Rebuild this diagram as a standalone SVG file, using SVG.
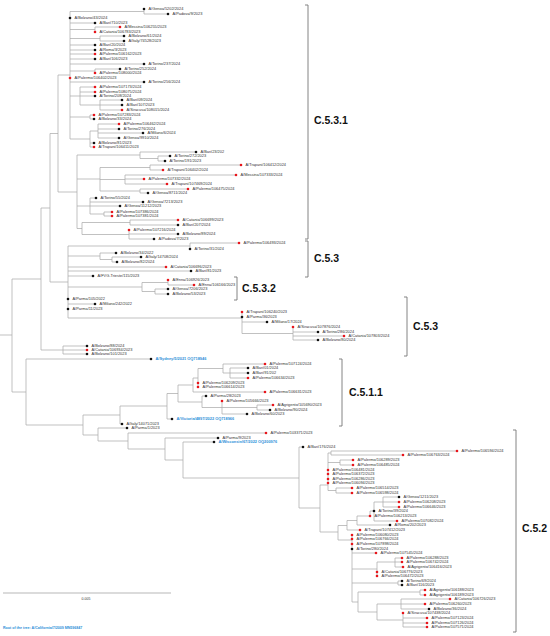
<svg xmlns="http://www.w3.org/2000/svg" width="550" height="636" viewBox="0 0 550 636">
<style>
.c path{fill:none;stroke:#a6a6a6;stroke-width:0.7}
.b{fill:#111}
.r{fill:#e8151b}
text{font-family:"Liberation Sans",Arial,sans-serif;font-size:3.9px;fill:#333}
.bl{fill:#2b8fd8;font-weight:bold}
.cl{font-size:10.5px;font-weight:bold;fill:#111}
.br{fill:none;stroke:#777;stroke-width:0.9}
.sb{stroke:#cfcfcf;stroke-width:1.5}
</style>
<rect width="550" height="636" fill="#fff"/>
<g id="connectors" class="c">
<path d="M0 335H12M12 279V392M12 279H41M41 208V350M41 208H50M50 133.5V282M50 133.5H58M58 75V192M58 75H70M70 11.5V139M58 192H77M77 155V228.5M50 282H68M68 246V318M41 350H63M63 346V354M63 346H87M63 350H87M63 354H87"/>
<path d="M70 11.5H144M144 9V14M144 14H168M70 23H95M70 29.5H95M95 27V32M95 27H120M70 38.5H100M100 36V41M100 36H124M100 41H124M70 45H95M70 50H95M70 54H95M70 59H95M70 64H144M70 71H95M95 69V73M95 69H120M70 82H144M70 96H80M80 87V105M80 87H95M80 92H95M80 96H95M80 105H100M100 100V110M100 100H122M100 105H122M100 110H122M70 117H90M90 115V119M90 115H94M90 119H94M70 139H90M90 131V147M90 131H98M98 124V138M98 124H119M98 129H119M98 133H143M98 138H119M90 143H94M90 147H94"/>
<path d="M77 155H140M140 152V158.5M140 152H196M140 158.5H158M158 156V161M158 156H170M158 161H165M77 179H100M100 167.5V191M100 167.5H150M150 165V170M150 165H241M150 170H163M100 179.5H125M125 175V184M125 175H236M125 179H144M125 184H167M100 191H140M140 189V193M140 189H188M140 193H148M77 206H90M90 198V214M90 198H96M90 202H143M90 206H120M90 214H104M104 212V216M104 212H112M104 216H112M77 228.5H82M82 222.5V234.5M82 222.5H130M130 220V225M130 220H178M130 225H178M82 234.5H129M129 230V239M129 234H178M129 239H154"/>
<path d="M68 246H190M190 243V249M190 243H239M68 256H100M100 253V259.5M100 253H116M100 259.5H112M112 257V262M112 257H141M112 262H117M68 267H166M68 271H191M68 276H93M68 287H142M142 282.5V291.5M142 282.5H168M168 280V285M168 285H194M142 291.5H155M155 289V294M155 289H168M155 294H168M68 304H95M68 318H242M242 312V333.5M242 322H267M242 333.5H293M293 327V340M293 332H318M293 336H344M293 340H318"/>
<path d="M12 392H26M26 359V425M26 359H151M26 425H83M83 415V435M83 415H120M120 406V424M120 424H122M120 406H167M167 393.5V419M167 419H172M167 393.5H178M178 385V402M178 385H193M193 378V392M193 392H265M193 378H198M198 368.5V387M198 368.5H223M223 364V373M223 364H265M223 373H230M230 368V378M230 368H248M230 373H248M230 378H248M178 402H202M202 396V407.5M202 396H206M202 407.5H222M222 401V414M222 407.5H257M257 405V410M257 405H273M257 410H270M222 414H247"/>
<path d="M83 435H98M98 428V441M98 428H127M98 441H128M128 433V449M128 433H266M128 449H165M165 438V460M165 438H218M165 460H183M183 442V478M183 442H214M183 478H299"/>
<path d="M299 447V508M299 447H303M299 508H320M320 485V532M320 485H328M328 453V490.5M328 453H331M331 451V455M331 451H457M331 455H403M328 462.5H340M340 460V465M340 460H353M340 465H353M328 490.5H336M336 488V493M336 488H352M336 493H352M320 532H338M338 525.5V540M338 525.5H347M347 520.5V530M347 530H360M347 520.5H357M357 516V525M357 525H390M357 516H370M370 511V516M370 511H374M374 502V521M374 502H383M383 497V507M383 497H399M383 502H399M383 507H399M374 521H397"/>
<path d="M338 540H352M352 535V602M352 553H376M352 569H377M377 562V576M377 562H395M395 558V567M395 558H402M395 562H402M395 567H403M352 583H398M398 581V585M398 581H402M398 585H402M352 602H358M358 592V612M358 592H420M420 590V595M420 590H425M420 595H425M358 612H377M377 604V620M377 604H401M401 599V609M401 599H450M401 604H425M401 609H429M377 620H403M403 613V627M403 618H427M403 623H427M403 627H427"/>
</g>
<g id="leaves">
<g id="n1"><circle class="b" cx="144" cy="9" r="1.3"/><text x="148.5" y="10.4">A/Genoa/5202/2024</text></g>
<g id="n2"><circle class="b" cx="168" cy="14" r="1.3"/><text x="172.5" y="15.4">A/Padova/9/2023</text></g>
<g id="n3"><circle class="b" cx="70" cy="18" r="1.3"/><text x="74.5" y="19.4">A/Bolzano/43/2024</text></g>
<g id="n4"><circle class="b" cx="95" cy="23" r="1.3"/><text x="99.5" y="24.4">A/Bari/710/2023</text></g>
<g id="n5"><circle class="r" cx="120" cy="27" r="1.3"/><text x="124.5" y="28.4">A/Messina/106255/2023</text></g>
<g id="n6"><circle class="r" cx="95" cy="32" r="1.3"/><text x="99.5" y="33.4">A/Catania/106783/2023</text></g>
<g id="n7"><circle class="b" cx="124" cy="36" r="1.3"/><text x="128.5" y="37.4">A/Bolzano/61/2024</text></g>
<g id="n8"><circle class="b" cx="124" cy="41" r="1.3"/><text x="128.5" y="42.4">A/Italy/74528/2023</text></g>
<g id="n9"><circle class="b" cx="95" cy="45" r="1.3"/><text x="99.5" y="46.4">A/Bari/20/2024</text></g>
<g id="n10"><circle class="b" cx="95" cy="50" r="1.3"/><text x="99.5" y="51.4">A/Roma/3/2023</text></g>
<g id="n11"><circle class="r" cx="95" cy="54" r="1.3"/><text x="99.5" y="55.4">A/Palermo/106162/2023</text></g>
<g id="n12"><circle class="b" cx="95" cy="59" r="1.3"/><text x="99.5" y="60.4">A/Bari/106/2023</text></g>
<g id="n13"><circle class="b" cx="144" cy="64" r="1.3"/><text x="148.5" y="65.4">A/Torino/237/2024</text></g>
<g id="n14"><circle class="b" cx="120" cy="69" r="1.3"/><text x="124.5" y="70.4">A/Torino/252/2024</text></g>
<g id="n15"><circle class="r" cx="95" cy="73" r="1.3"/><text x="99.5" y="74.4">A/Palermo/108000/2024</text></g>
<g id="n16"><circle class="r" cx="70" cy="78" r="1.3"/><text x="74.5" y="79.4">A/Palermo/106402/2023</text></g>
<g id="n17"><circle class="b" cx="144" cy="82" r="1.3"/><text x="148.5" y="83.4">A/Torino/256/2024</text></g>
<g id="n18"><circle class="r" cx="95" cy="87" r="1.3"/><text x="99.5" y="88.4">A/Palermo/107173/2024</text></g>
<g id="n19"><circle class="r" cx="95" cy="92" r="1.3"/><text x="99.5" y="93.4">A/Palermo/108075/2024</text></g>
<g id="n20"><circle class="b" cx="95" cy="96" r="1.3"/><text x="99.5" y="97.4">A/Torino/208/2024</text></g>
<g id="n21"><circle class="b" cx="122" cy="100" r="1.3"/><text x="126.5" y="101.4">A/Bari/09/2024</text></g>
<g id="n22"><circle class="b" cx="122" cy="105" r="1.3"/><text x="126.5" y="106.4">A/Bari/107/2023</text></g>
<g id="n23"><circle class="r" cx="122" cy="110" r="1.3"/><text x="126.5" y="111.4">A/Siracusa/108015/2024</text></g>
<g id="n24"><circle class="r" cx="94" cy="115" r="1.3"/><text x="98.5" y="116.4">A/Palermo/107283/2024</text></g>
<g id="n25"><circle class="b" cx="94" cy="119" r="1.3"/><text x="98.5" y="120.4">A/Bolzano/33/2024</text></g>
<g id="n26"><circle class="r" cx="119" cy="124" r="1.3"/><text x="123.5" y="125.4">A/Palermo/106462/2024</text></g>
<g id="n27"><circle class="b" cx="119" cy="129" r="1.3"/><text x="123.5" y="130.4">A/Torino/276/2024</text></g>
<g id="n28"><circle class="b" cx="143" cy="133" r="1.3"/><text x="147.5" y="134.4">A/Milano/6/2024</text></g>
<g id="n29"><circle class="b" cx="119" cy="138" r="1.3"/><text x="123.5" y="139.4">A/Genoa/9910/2024</text></g>
<g id="n30"><circle class="b" cx="94" cy="143" r="1.3"/><text x="98.5" y="144.4">A/Bolzano/81/2023</text></g>
<g id="n31"><circle class="r" cx="94" cy="147" r="1.3"/><text x="98.5" y="148.4">A/Trapani/106411/2023</text></g>
<g id="n32"><circle class="b" cx="196" cy="152" r="1.3"/><text x="200.5" y="153.4">A/Bari/23/202</text></g>
<g id="n33"><circle class="b" cx="170" cy="156" r="1.3"/><text x="174.5" y="157.4">A/Torino/272/2023</text></g>
<g id="n34"><circle class="b" cx="165" cy="161" r="1.3"/><text x="169.5" y="162.4">A/Torino/191/2023</text></g>
<g id="n35"><circle class="r" cx="241" cy="165" r="1.3"/><text x="245.5" y="166.4">A/Trapani/106412/2024</text></g>
<g id="n36"><circle class="r" cx="163" cy="170" r="1.3"/><text x="167.5" y="171.4">A/Trapani/106402/2024</text></g>
<g id="n37"><circle class="r" cx="236" cy="175" r="1.3"/><text x="240.5" y="176.4">A/Messina/107333/2024</text></g>
<g id="n38"><circle class="r" cx="144" cy="179" r="1.3"/><text x="148.5" y="180.4">A/Palermo/107332/2024</text></g>
<g id="n39"><circle class="r" cx="167" cy="184" r="1.3"/><text x="171.5" y="185.4">A/Trapani/107469/2024</text></g>
<g id="n40"><circle class="r" cx="188" cy="189" r="1.3"/><text x="192.5" y="190.4">A/Palermo/106475/2024</text></g>
<g id="n41"><circle class="b" cx="148" cy="193" r="1.3"/><text x="152.5" y="194.4">A/Genoa/8711/2024</text></g>
<g id="n42"><circle class="b" cx="96" cy="198" r="1.3"/><text x="100.5" y="199.4">A/Torino/55/2024</text></g>
<g id="n43"><circle class="b" cx="143" cy="202" r="1.3"/><text x="147.5" y="203.4">A/Genoa/7213/2023</text></g>
<g id="n44"><circle class="b" cx="120" cy="206" r="1.3"/><text x="124.5" y="207.4">A/Genoa/11212/2023</text></g>
<g id="n45"><circle class="r" cx="112" cy="212" r="1.3"/><text x="116.5" y="213.4">A/Palermo/107386/2024</text></g>
<g id="n46"><circle class="r" cx="112" cy="216" r="1.3"/><text x="116.5" y="217.4">A/Palermo/107381/2024</text></g>
<g id="n47"><circle class="r" cx="178" cy="220" r="1.3"/><text x="182.5" y="221.4">A/Catania/106699/2023</text></g>
<g id="n48"><circle class="b" cx="178" cy="225" r="1.3"/><text x="182.5" y="226.4">A/Bari/207/2024</text></g>
<g id="n49"><circle class="r" cx="129" cy="230" r="1.3"/><text x="133.5" y="231.4">A/Palermo/107216/2024</text></g>
<g id="n50"><circle class="b" cx="178" cy="234" r="1.3"/><text x="182.5" y="235.4">A/Bolzano/89/2024</text></g>
<g id="n51"><circle class="b" cx="154" cy="239" r="1.3"/><text x="158.5" y="240.4">A/Padova/7/2023</text></g>
<g id="n52"><circle class="r" cx="239" cy="243" r="1.3"/><text x="243.5" y="244.4">A/Palermo/106493/2024</text></g>
<g id="n53"><circle class="b" cx="190" cy="249" r="1.3"/><text x="194.5" y="250.4">A/Torino/31/2024</text></g>
<g id="n54"><circle class="b" cx="116" cy="253" r="1.3"/><text x="120.5" y="254.4">A/Bolzano/34/2022</text></g>
<g id="n55"><circle class="b" cx="141" cy="257" r="1.3"/><text x="145.5" y="258.4">A/Italy/14708/2024</text></g>
<g id="n56"><circle class="b" cx="117" cy="262" r="1.3"/><text x="121.5" y="263.4">A/Bolzano/82/2024</text></g>
<g id="n57"><circle class="r" cx="166" cy="267" r="1.3"/><text x="170.5" y="268.4">A/Catania/106696/2023</text></g>
<g id="n58"><circle class="b" cx="191" cy="271" r="1.3"/><text x="195.5" y="272.4">A/Bari/81/2023</text></g>
<g id="n59"><circle class="b" cx="93" cy="276" r="1.3"/><text x="97.5" y="277.4">A/FVG-Trieste/115/2023</text></g>
<g id="n60"><circle class="r" cx="168" cy="280" r="1.3"/><text x="172.5" y="281.4">A/Enna/106926/2023</text></g>
<g id="n61"><circle class="r" cx="194" cy="285" r="1.3"/><text x="198.5" y="286.4">A/Enna/106166/2023</text></g>
<g id="n62"><circle class="b" cx="168" cy="289" r="1.3"/><text x="172.5" y="290.4">A/Genoa/7206/2023</text></g>
<g id="n63"><circle class="b" cx="168" cy="294" r="1.3"/><text x="172.5" y="295.4">A/Bolzano/53/2023</text></g>
<g id="n64"><circle class="b" cx="68" cy="299" r="1.3"/><text x="72.5" y="300.4">A/Parma/105/2022</text></g>
<g id="n65"><circle class="b" cx="95" cy="304" r="1.3"/><text x="99.5" y="305.4">A/Milano/242/2022</text></g>
<g id="n66"><circle class="b" cx="68" cy="309" r="1.3"/><text x="72.5" y="310.4">A/Parma/11/2023</text></g>
<g id="n67"><circle class="r" cx="242" cy="312" r="1.3"/><text x="246.5" y="313.4">A/Trapani/106240/2023</text></g>
<g id="n68"><circle class="b" cx="242" cy="317" r="1.3"/><text x="246.5" y="318.4">A/Parma/36/2023</text></g>
<g id="n69"><circle class="b" cx="267" cy="322" r="1.3"/><text x="271.5" y="323.4">A/Milano/17/2024</text></g>
<g id="n70"><circle class="r" cx="293" cy="327" r="1.3"/><text x="297.5" y="328.4">A/Siracusa/107876/2024</text></g>
<g id="n71"><circle class="b" cx="318" cy="332" r="1.3"/><text x="322.5" y="333.4">A/Torino/286/2024</text></g>
<g id="n72"><circle class="r" cx="344" cy="336" r="1.3"/><text x="348.5" y="337.4">A/Catania/107803/2024</text></g>
<g id="n73"><circle class="b" cx="318" cy="340" r="1.3"/><text x="322.5" y="341.4">A/Bolzano/80/2024</text></g>
<g id="n74"><circle class="b" cx="87" cy="346" r="1.3"/><text x="91.5" y="347.4">A/Bolzano/88/2024</text></g>
<g id="n75"><circle class="r" cx="87" cy="350" r="1.3"/><text x="91.5" y="351.4">A/Catania/106934/2023</text></g>
<g id="n76"><circle class="b" cx="87" cy="354" r="1.3"/><text x="91.5" y="355.4">A/Bolzano/101/2023</text></g>
<g id="n77"><circle class="b" cx="151" cy="359" r="1.3"/><text class="bl" x="155.5" y="360.4">A/Sydney/5/2021 OQ718946</text></g>
<g id="n78"><circle class="r" cx="265" cy="364" r="1.3"/><text x="269.5" y="365.4">A/Palermo/107124/2024</text></g>
<g id="n79"><circle class="b" cx="248" cy="368" r="1.3"/><text x="252.5" y="369.4">A/Bari/01/2024</text></g>
<g id="n80"><circle class="b" cx="248" cy="373" r="1.3"/><text x="252.5" y="374.4">A/Bari/91/202</text></g>
<g id="n81"><circle class="r" cx="248" cy="378" r="1.3"/><text x="252.5" y="379.4">A/Palermo/106634/2023</text></g>
<g id="n82"><circle class="r" cx="198" cy="383" r="1.3"/><text x="202.5" y="384.4">A/Palermo/106209/2023</text></g>
<g id="n83"><circle class="r" cx="198" cy="387" r="1.3"/><text x="202.5" y="388.4">A/Palermo/106614/2023</text></g>
<g id="n84"><circle class="r" cx="265" cy="392" r="1.3"/><text x="269.5" y="393.4">A/Palermo/106631/2023</text></g>
<g id="n85"><circle class="b" cx="206" cy="396" r="1.3"/><text x="210.5" y="397.4">A/Parma/28/2023</text></g>
<g id="n86"><circle class="r" cx="222" cy="401" r="1.3"/><text x="226.5" y="402.4">A/Palermo/105666/2023</text></g>
<g id="n87"><circle class="r" cx="273" cy="405" r="1.3"/><text x="277.5" y="406.4">A/Agrigento/105690/2023</text></g>
<g id="n88"><circle class="b" cx="270" cy="410" r="1.3"/><text x="274.5" y="411.4">A/Bolzano/90/2024</text></g>
<g id="n89"><circle class="b" cx="247" cy="414" r="1.3"/><text x="251.5" y="415.4">A/Bolzano/60/2023</text></g>
<g id="n90"><circle class="b" cx="172" cy="419" r="1.3"/><text class="bl" x="176.5" y="420.4">A/Victoria/4897/2022 OQ718966</text></g>
<g id="n91"><circle class="b" cx="122" cy="424" r="1.3"/><text x="126.5" y="425.4">A/Italy/14071/2023</text></g>
<g id="n92"><circle class="b" cx="127" cy="428" r="1.3"/><text x="131.5" y="429.4">A/Parma/1/2023</text></g>
<g id="n93"><circle class="r" cx="266" cy="433" r="1.3"/><text x="270.5" y="434.4">A/Palermo/103371/2023</text></g>
<g id="n94"><circle class="b" cx="218" cy="438" r="1.3"/><text x="222.5" y="439.4">A/Parma/9/2023</text></g>
<g id="n95"><circle class="b" cx="214" cy="442" r="1.3"/><text class="bl" x="218.5" y="443.4">A/Wisconsin/67/2022 OQ200976</text></g>
<g id="n96"><circle class="b" cx="303" cy="447" r="1.3"/><text x="307.5" y="448.4">A/Bari/176/2024</text></g>
<g id="n97"><circle class="r" cx="457" cy="451" r="1.3"/><text x="461.5" y="452.4">A/Palermo/106594/2024</text></g>
<g id="n98"><circle class="r" cx="403" cy="455" r="1.3"/><text x="407.5" y="456.4">A/Palermo/106763/2024</text></g>
<g id="n99"><circle class="r" cx="353" cy="460" r="1.3"/><text x="357.5" y="461.4">A/Palermo/106289/2023</text></g>
<g id="n100"><circle class="r" cx="353" cy="465" r="1.3"/><text x="357.5" y="466.4">A/Palermo/106485/2024</text></g>
<g id="n101"><circle class="r" cx="328" cy="470" r="1.3"/><text x="332.5" y="471.4">A/Palermo/106481/2024</text></g>
<g id="n102"><circle class="r" cx="328" cy="474" r="1.3"/><text x="332.5" y="475.4">A/Palermo/106372/2023</text></g>
<g id="n103"><circle class="r" cx="328" cy="479" r="1.3"/><text x="332.5" y="480.4">A/Palermo/106286/2023</text></g>
<g id="n104"><circle class="r" cx="328" cy="483" r="1.3"/><text x="332.5" y="484.4">A/Palermo/106094/2023</text></g>
<g id="n105"><circle class="r" cx="352" cy="488" r="1.3"/><text x="356.5" y="489.4">A/Palermo/106514/2023</text></g>
<g id="n106"><circle class="r" cx="352" cy="493" r="1.3"/><text x="356.5" y="494.4">A/Palermo/106598/2024</text></g>
<g id="n107"><circle class="b" cx="399" cy="497" r="1.3"/><text x="403.5" y="498.4">A/Genoa/1211/2023</text></g>
<g id="n108"><circle class="r" cx="399" cy="502" r="1.3"/><text x="403.5" y="503.4">A/Palermo/106208/2023</text></g>
<g id="n109"><circle class="r" cx="399" cy="507" r="1.3"/><text x="403.5" y="508.4">A/Palermo/106646/2023</text></g>
<g id="n110"><circle class="b" cx="374" cy="511" r="1.3"/><text x="378.5" y="512.4">A/Torino/39/2024</text></g>
<g id="n111"><circle class="r" cx="370" cy="516" r="1.3"/><text x="374.5" y="517.4">A/Palermo/106213/2023</text></g>
<g id="n112"><circle class="r" cx="397" cy="521" r="1.3"/><text x="401.5" y="522.4">A/Palermo/107082/2024</text></g>
<g id="n113"><circle class="b" cx="390" cy="525" r="1.3"/><text x="394.5" y="526.4">A/Roma/202/2023</text></g>
<g id="n114"><circle class="r" cx="360" cy="530" r="1.3"/><text x="364.5" y="531.4">A/Trapani/107412/2023</text></g>
<g id="n115"><circle class="r" cx="352" cy="535" r="1.3"/><text x="356.5" y="536.4">A/Palermo/106080/2023</text></g>
<g id="n116"><circle class="r" cx="352" cy="539" r="1.3"/><text x="356.5" y="540.4">A/Palermo/106766/2024</text></g>
<g id="n117"><circle class="r" cx="352" cy="544" r="1.3"/><text x="356.5" y="545.4">A/Palermo/107898/2024</text></g>
<g id="n118"><circle class="b" cx="352" cy="549" r="1.3"/><text x="356.5" y="550.4">A/Torino/280/2024</text></g>
<g id="n119"><circle class="r" cx="376" cy="553" r="1.3"/><text x="380.5" y="554.4">A/Palermo/107545/2024</text></g>
<g id="n120"><circle class="r" cx="402" cy="558" r="1.3"/><text x="406.5" y="559.4">A/Palermo/106288/2023</text></g>
<g id="n121"><circle class="r" cx="402" cy="562" r="1.3"/><text x="406.5" y="563.4">A/Palermo/106742/2024</text></g>
<g id="n122"><circle class="r" cx="403" cy="567" r="1.3"/><text x="407.5" y="568.4">A/Agrigento/106416/2023</text></g>
<g id="n123"><circle class="r" cx="377" cy="572" r="1.3"/><text x="381.5" y="573.4">A/Catania/106776/2023</text></g>
<g id="n124"><circle class="r" cx="377" cy="576" r="1.3"/><text x="381.5" y="577.4">A/Palermo/106472/2023</text></g>
<g id="n125"><circle class="b" cx="402" cy="581" r="1.3"/><text x="406.5" y="582.4">A/Torino/69/2024</text></g>
<g id="n126"><circle class="b" cx="402" cy="585" r="1.3"/><text x="406.5" y="586.4">A/Bari/116/2023</text></g>
<g id="n127"><circle class="r" cx="425" cy="590" r="1.3"/><text x="429.5" y="591.4">A/Agrigento/106188/2023</text></g>
<g id="n128"><circle class="r" cx="425" cy="595" r="1.3"/><text x="429.5" y="596.4">A/Agrigento/106189/2023</text></g>
<g id="n129"><circle class="r" cx="450" cy="599" r="1.3"/><text x="454.5" y="600.4">A/Catania/106726/2023</text></g>
<g id="n130"><circle class="r" cx="425" cy="604" r="1.3"/><text x="429.5" y="605.4">A/Palermo/106260/2023</text></g>
<g id="n131"><circle class="b" cx="429" cy="609" r="1.3"/><text x="433.5" y="610.4">A/Bolzano/36/2024</text></g>
<g id="n132"><circle class="r" cx="403" cy="613" r="1.3"/><text x="407.5" y="614.4">A/Siracusa/107438/2024</text></g>
<g id="n133"><circle class="r" cx="427" cy="618" r="1.3"/><text x="431.5" y="619.4">A/Palermo/107123/2024</text></g>
<g id="n134"><circle class="r" cx="427" cy="623" r="1.3"/><text x="431.5" y="624.4">A/Palermo/107126/2024</text></g>
<g id="n135"><circle class="r" cx="427" cy="627" r="1.3"/><text x="431.5" y="628.4">A/Palermo/107571/2024</text></g>
</g>
<g id="clades">
<path class="br" d="M305 5H308V239H305"/>
<text class="cl" x="314" y="124">C.5.3.1</text>
<path class="br" d="M305 241H308V277H305"/>
<text class="cl" x="314" y="262">C.5.3</text>
<path class="br" d="M234 277H237V300H234"/>
<text class="cl" x="242" y="292">C.5.3.2</text>
<path class="br" d="M404 297H407V356H404"/>
<text class="cl" x="413" y="330">C.5.3</text>
<path class="br" d="M339 359H342V426H339"/>
<text class="cl" x="349" y="396">C.5.1.1</text>
<path class="br" d="M513 430H516V632H513"/>
<text class="cl" x="522" y="532">C.5.2</text>
</g>
<g id="scale">
<path class="sb" d="M3 593H171"/>
<text x="86" y="599.5" text-anchor="middle" style="font-size:3.5px">0.005</text>
</g>
<text class="bl" x="3" y="629" style="font-size:3.6px">Root of the tree: A/California/7/2009 MN596847</text>
</svg>
